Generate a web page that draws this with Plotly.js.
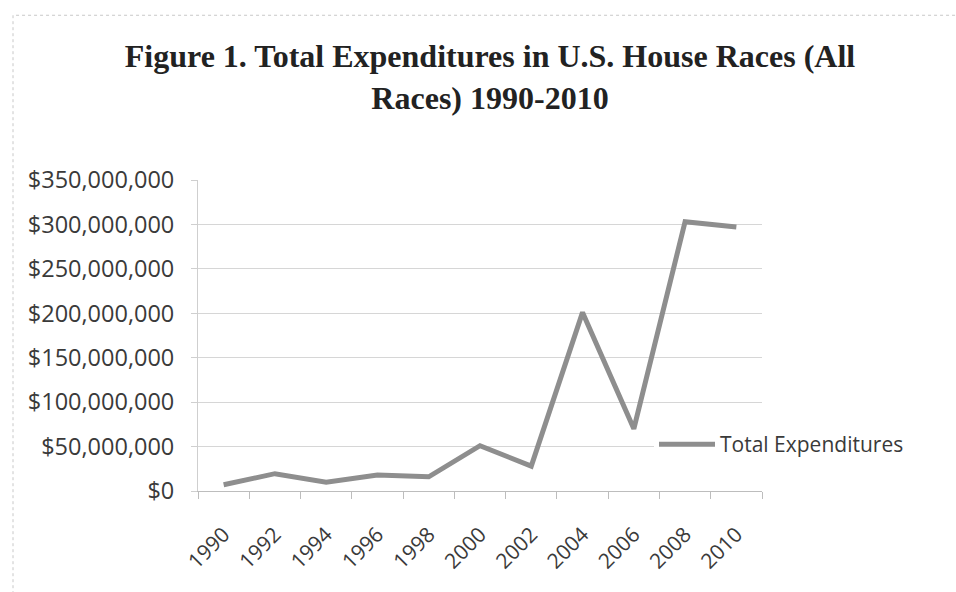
<!DOCTYPE html>
<html>
<head>
<meta charset="utf-8">
<script src="https://cdn.plot.ly/plotly-3.0.1.min.js"></script>
<style>
  html, body { margin: 0; padding: 0; background: #ffffff; }
  #chart { width: 956px; height: 592px; }
</style>
</head>
<body>
<div id="chart"></div>
<script>
// ---- Data ----
const years = ['1990', '1992', '1994', '1996', '1998', '2000', '2002', '2004', '2006', '2008', '2010'];
const totalExpenditures = [7000000, 19500000, 10000000, 18000000, 16000000, 51000000, 28000000, 201000000, 70000000, 303000000, 297000000];
const seriesName = 'Total Expenditures';
const chartTitle = 'Figure 1. Total Expenditures in U.S. House Races (All<br>Races) 1990-2010';

const W = 956, H = 592;
const plotL = 198, plotR = 762, plotT = 180, plotB = 491.5;
const pw = plotR - plotL, ph = plotB - plotT;
const px = (x) => (x - plotL) / pw;
const py = (y) => (plotB - y) / ph;

const trace = {
  type: 'scatter',
  mode: 'lines',
  x: years,
  y: totalExpenditures,
  name: seriesName,
  line: { color: '#8e8e8e', width: 5 },
  showlegend: true
};

const layout = {
  width: W,
  height: H,
  margin: { l: plotL, r: W - plotR, t: plotT, b: H - plotB },
  paper_bgcolor: '#ffffff',
  plot_bgcolor: '#ffffff',
  title: {
    text: chartTitle,
    x: 490 / W,
    xanchor: 'center',
    xref: 'container',
    y: 1 - 67 / H,
    yanchor: 'top',
    yref: 'container',
    font: { family: 'Liberation Serif, serif', size: 32, color: '#222222', weight: 700 }
  },
  xaxis: {
    type: 'category',
    range: [-0.5, years.length - 0.5],
    tickson: 'boundaries',
    ticks: 'outside',
    ticklen: 7,
    tickcolor: '#bdbdbd',
    tickangle: -45,
    ticklabelstandoff: 22,
    showline: true,
    linecolor: '#bdbdbd',
    linewidth: 1,
    showgrid: false,
    zeroline: false,
    tickfont: { family: 'Open Sans, sans-serif', size: 21, color: '#3a3a3a' },
    fixedrange: true
  },
  yaxis: {
    range: [0, 350000000],
    dtick: 50000000,
    tick0: 0,
    tickprefix: '$',
    tickformat: ',d',
    ticks: 'outside',
    ticklen: 6,
    tickcolor: '#cfcfcf',
    ticklabelstandoff: 12,
    showline: true,
    linecolor: '#cfcfcf',
    linewidth: 1,
    showgrid: true,
    gridcolor: '#d6d6d6',
    gridwidth: 1,
    zeroline: false,
    tickfont: { family: 'Open Sans, sans-serif', size: 23.5, color: '#3a3a3a' },
    fixedrange: true
  },
  showlegend: true,
  legend: {
    x: px(654),
    y: py(445),
    xanchor: 'left',
    yanchor: 'middle',
    bgcolor: '#ffffff',
    borderwidth: 0,
    font: { family: 'Open Sans, sans-serif', size: 21, color: '#3a3a3a' },
    itemwidth: 56
  },
  shapes: [{
    type: 'rect',
    xref: 'paper', yref: 'paper',
    x0: px(13), x1: px(975),
    y0: py(600), y1: py(15),
    line: { color: '#c8c8c8', width: 1, dash: 'dot' },
    fillcolor: 'rgba(0,0,0,0)',
    layer: 'below'
  }]
};

Plotly.newPlot('chart', [trace], layout, { displayModeBar: false, staticPlot: true });
</script>
</body>
</html>
